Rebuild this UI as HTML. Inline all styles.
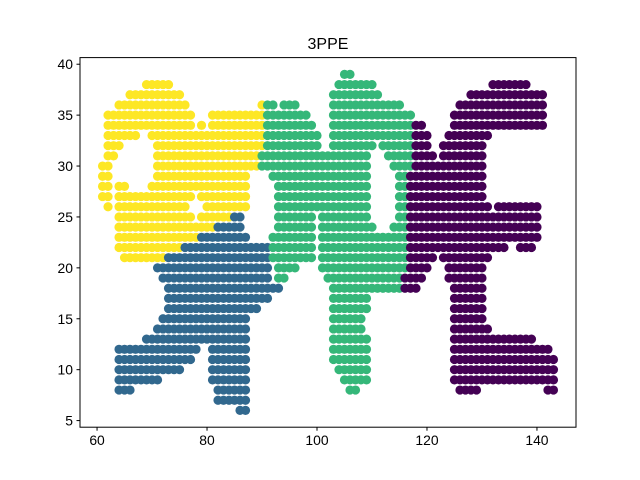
<!DOCTYPE html>
<html><head><meta charset="utf-8"><style>
html,body{margin:0;padding:0;background:#fff;}
svg{display:block;font-family:"Liberation Sans","DejaVu Sans",sans-serif;}
</style></head><body>
<svg id="chart" width="640" height="480" viewBox="0 0 640 480" xmlns="http://www.w3.org/2000/svg">
<rect x="0" y="0" width="640" height="480" fill="#fff"/>
<text x="328" y="49" font-size="16" text-anchor="middle" fill="#000">3PPE</text>
<g id="points"></g>
<g id="axes"></g>
</svg>
<script>
// Runs of points per cluster: [y, xStart, xEnd] (integer grid)
const yellowRuns = [[38,69,73],[37,66,75],[36,64,76],[36,90,90],[35,62,77],[35,81,90],[34,62,77],[34,79,79],[34,81,90],[33,62,67],[33,70,90],[32,62,64],[32,71,90],[31,62,63],[31,71,89],[30,61,62],[30,71,89],[29,61,62],[29,71,87],[28,61,62],[28,64,65],[28,70,87],[27,61,62],[27,64,77],[27,79,87],[26,62,62],[26,64,76],[26,80,87],[25,64,77],[25,79,84],[24,64,81],[23,64,78],[22,64,75],[21,65,72]];
const blueRuns = [[25,85,86],[24,82,86],[23,79,87],[22,76,91],[21,73,91],[20,71,91],[19,72,91],[18,73,93],[17,73,91],[16,73,89],[15,72,87],[14,71,87],[13,69,87],[12,64,78],[12,81,87],[11,64,77],[11,81,87],[10,64,75],[10,81,87],[9,64,71],[9,81,87],[8,64,66],[8,82,87],[7,82,87],[6,86,87]];
const greenRuns = [[39,105,106],[38,104,110],[37,103,111],[36,91,92],[36,94,96],[36,103,115],[35,91,98],[35,103,117],[34,91,99],[34,103,117],[33,91,100],[33,103,117],[32,91,100],[32,103,110],[32,112,117],[31,90,109],[31,113,117],[30,90,109],[30,114,117],[29,92,109],[29,115,116],[28,93,109],[28,115,116],[27,93,109],[27,115,116],[26,93,109],[26,115,116],[25,93,99],[25,101,109],[25,115,116],[24,93,99],[24,101,110],[24,114,116],[23,92,99],[23,101,116],[22,92,99],[22,101,116],[21,92,99],[21,101,116],[20,93,96],[20,101,116],[19,93,94],[19,102,115],[18,103,115],[17,103,109],[16,103,109],[15,103,108],[14,103,108],[13,103,109],[12,103,109],[11,103,109],[10,104,109],[9,105,109],[8,106,107]];
const purpleRuns = [[38,132,138],[37,128,141],[36,126,141],[35,125,141],[34,118,119],[34,125,141],[33,118,120],[33,124,131],[32,118,120],[32,123,130],[31,118,121],[31,123,130],[30,118,130],[29,117,130],[28,117,130],[27,117,130],[26,117,131],[26,133,140],[25,117,140],[24,117,140],[23,117,140],[22,117,134],[22,137,139],[21,117,121],[21,123,131],[20,117,120],[20,124,130],[19,116,119],[19,124,130],[18,116,118],[18,125,130],[17,125,130],[16,125,130],[15,125,130],[14,125,131],[13,125,139],[12,125,142],[11,125,143],[10,125,143],[9,125,143],[8,126,129],[8,142,143]];
const xTicks = [60,80,100,120,140];
const yTicks = [5,10,15,20,25,30,35,40];

const NS = "http://www.w3.org/2000/svg";
const L = 80, R = 576, T = 57.6, B = 427.2;
const XMIN = 56.9, XMAX = 147.1, YMIN = 4.35, YMAX = 40.65;
function xs(v){ return L + (v - XMIN) / (XMAX - XMIN) * (R - L); }
function ys(v){ return B - (v - YMIN) / (YMAX - YMIN) * (B - T); }

const pg = document.getElementById('points');
function drawRuns(runs, color, name){
  runs.forEach(r => {
    for (let x = r[1]; x <= r[2]; x++) {
      const c = document.createElementNS(NS, 'circle');
      c.setAttribute('cx', xs(x).toFixed(2));
      c.setAttribute('cy', ys(r[0]).toFixed(2));
      c.setAttribute('r', 4.6);
      c.setAttribute('fill', color);
      
      
      pg.appendChild(c);
    }
  });
}
drawRuns(yellowRuns, '#fde725', 'point-yellow');
drawRuns(blueRuns, '#31688e', 'point-blue');
drawRuns(greenRuns, '#35b779', 'point-green');
drawRuns(purpleRuns, '#440154', 'point-purple');

const ag = document.getElementById('axes');
const frame = document.createElementNS(NS, 'rect');
frame.setAttribute('x', L); frame.setAttribute('y', T);
frame.setAttribute('width', R - L); frame.setAttribute('height', B - T);
frame.setAttribute('fill', 'none'); frame.setAttribute('stroke', '#000'); frame.setAttribute('stroke-width', '1');


ag.appendChild(frame);

xTicks.forEach(t => {
  const x = xs(t);
  const ln = document.createElementNS(NS, 'line');
  ln.setAttribute('x1', x); ln.setAttribute('x2', x);
  ln.setAttribute('y1', B); ln.setAttribute('y2', B + 3.5);
  ln.setAttribute('stroke', '#000');
  
  
  ag.appendChild(ln);
  const tx = document.createElementNS(NS, 'text');
  tx.setAttribute('x', x); tx.setAttribute('y', B + 18);
  tx.setAttribute('font-size', '13.9'); tx.setAttribute('text-anchor', 'middle');
  tx.textContent = t;
  
  
  ag.appendChild(tx);
});
yTicks.forEach(t => {
  const y = ys(t);
  const ln = document.createElementNS(NS, 'line');
  ln.setAttribute('x1', L - 3.5); ln.setAttribute('x2', L);
  ln.setAttribute('y1', y); ln.setAttribute('y2', y);
  ln.setAttribute('stroke', '#000');
  
  
  ag.appendChild(ln);
  const tx = document.createElementNS(NS, 'text');
  tx.setAttribute('x', L - 7); tx.setAttribute('y', y + 5);
  tx.setAttribute('font-size', '13.9'); tx.setAttribute('text-anchor', 'end');
  tx.textContent = t;
  
  
  ag.appendChild(tx);
});
</script>
</body></html>
